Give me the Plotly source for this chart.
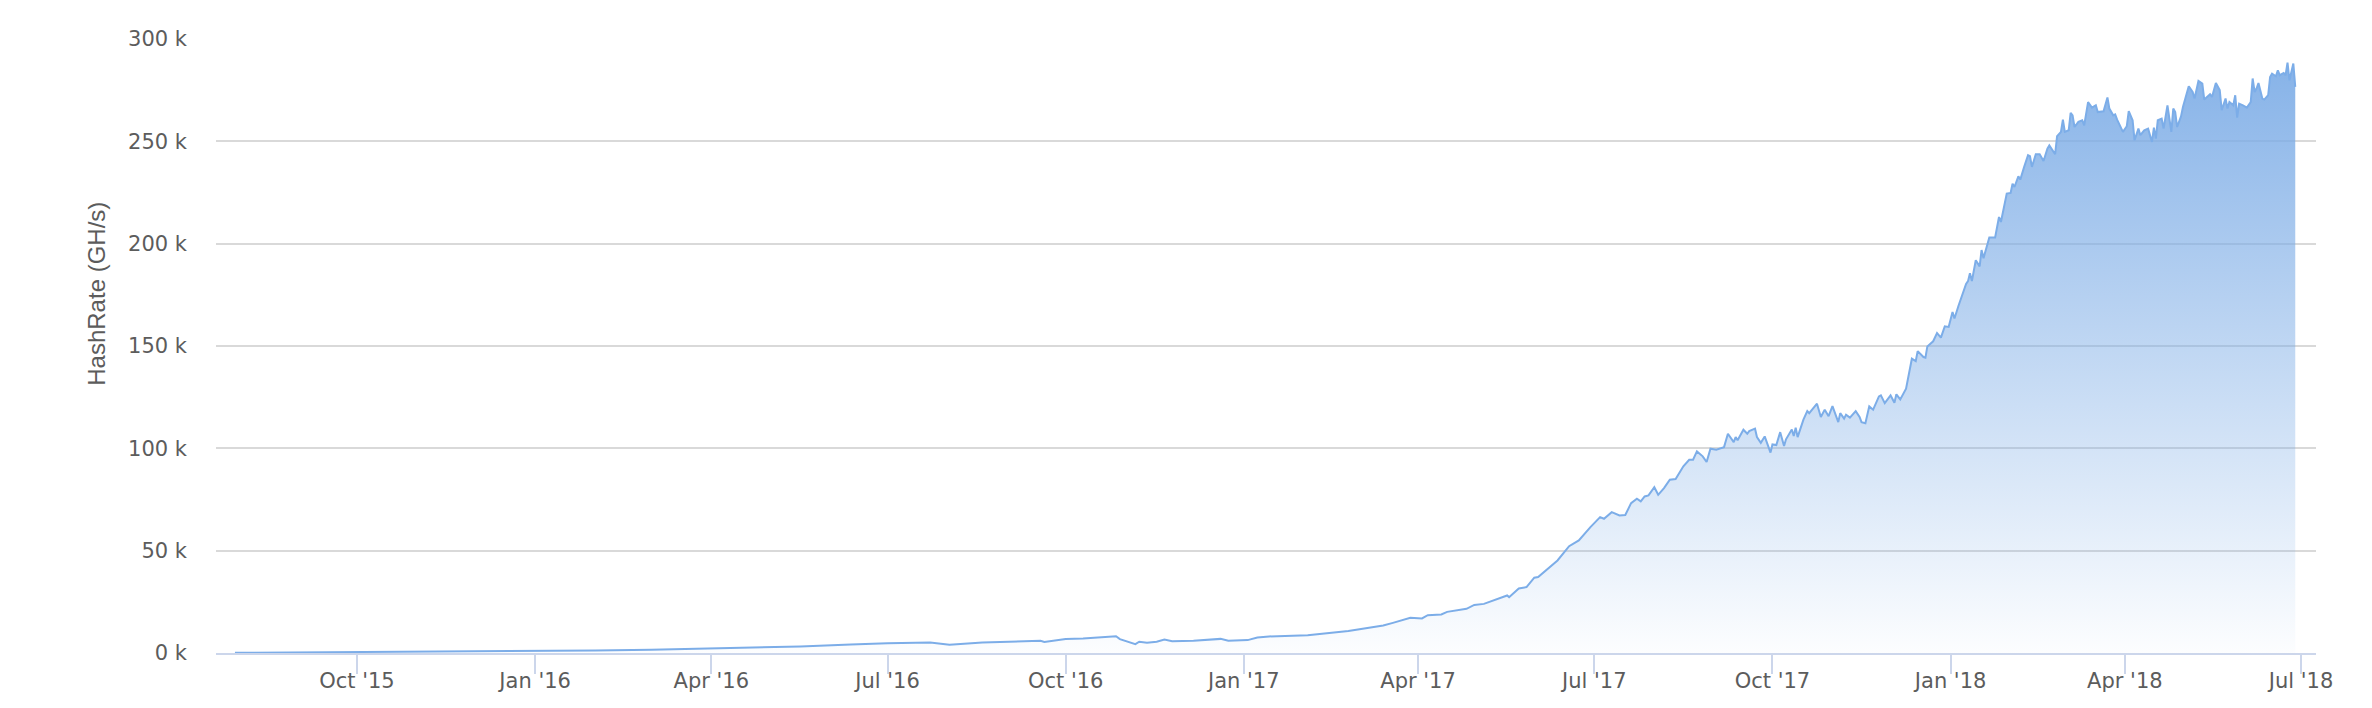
import pandas as pd
import plotly.graph_objects as go

day_offset = [
    -63, -45, -30, 0, 31, 61, 92, 123, 152, 183, 203, 229, 255, 274, 296, 306, 323, 341, 353, 355,
    366, 375, 384, 392, 394, 397, 402, 404, 408, 413, 417, 421, 432, 446, 450, 460, 465, 471, 491, 512,
    530, 535, 544, 550, 553, 560, 563, 573, 577, 582, 590, 594, 595, 600, 604, 608, 610, 616, 620, 626,
    631, 637, 642, 644, 648, 652, 655, 658, 661, 663, 665, 667, 670, 672, 675, 678, 681, 685, 688, 690,
    692, 695, 697, 699, 702, 706, 708, 711, 712, 713, 716, 718, 719, 722, 723, 725, 727, 730, 731, 733,
    735, 737, 738, 741, 742, 743, 744, 747, 749, 750, 752, 754, 756, 758, 760, 762, 765, 766, 768, 769,
    771, 774, 776, 777, 779, 781, 783, 786, 787, 789, 792, 794, 795, 797, 800, 803, 805, 806, 809, 810,
    811, 814, 816, 818, 820, 822, 824, 825, 827, 831, 832, 833, 834, 836, 838, 839, 840, 843, 846, 848,
    849, 852, 854, 855, 856, 858, 859, 860, 861, 863, 864, 865, 867, 869, 871, 873, 874, 877, 878, 880,
    881, 882, 884, 885, 886, 887, 889, 891, 892, 894, 896, 898, 899, 902, 904, 905, 907, 908, 909, 912,
    914, 915, 917, 918, 920, 921, 923, 925, 927, 928, 929, 930, 932, 933, 935, 937, 938, 939, 940, 942,
    943, 946, 948, 949, 951, 953, 954, 957, 958, 960, 962, 963, 965, 966, 967, 969, 970, 971, 972, 974,
    976, 978, 979, 980, 981, 982, 984, 985, 987, 988, 989, 991, 992, 993, 995, 996, 997, 998, 1000, 1001,
]

# HashRate in thousands of GH/s (k)
hashrate_k = [
    0.1, 0.2, 0.25, 0.4, 0.5, 0.7, 0.9, 1.2, 1.6, 2.1, 2.5, 3.2, 4.1, 4.8, 5.1, 4.0, 5.1, 5.6, 6.0, 5.4,
    6.8, 7.1, 7.7, 8.2, 6.8, 5.8, 4.3, 5.5, 5.0, 5.5, 6.6, 5.8, 6.0, 6.9, 6.0, 6.3, 7.6, 8.1, 8.7, 10.7,
    13.4, 14.7, 17.2, 16.9, 18.5, 18.8, 20.1, 21.6, 23.5, 24.0, 26.5, 28.1, 27.3, 31.5, 32.2, 36.8, 37.1, 41.9, 45.2, 52.2,
    55.0, 61.5, 66.4, 65.6, 68.8, 67.2, 67.4, 73.2, 75.4, 74.1, 76.5, 77.0, 81.0, 77.3, 80.6, 84.7, 85.0, 91.2, 94.4, 94.4,
    98.5, 96.1, 93.3, 99.8, 99.3, 100.6, 107.1, 103.0, 105.5, 103.9, 109.1, 107.1, 108.4, 109.6, 105.5, 102.7, 105.8, 97.9, 101.9, 101.6,
    107.9, 101.1, 104.4, 109.2, 106.0, 110.1, 105.5, 114.0, 118.2, 117.2, 119.4, 121.8, 115.3, 118.9, 115.7, 120.6, 112.8, 117.2, 114.5, 116.4,
    115.0, 118.2, 115.3, 112.8, 112.3, 120.5, 118.9, 125.4, 125.9, 122.1, 125.9, 122.3, 126.4, 123.9, 129.1, 143.8, 142.6, 147.5, 144.6, 144.3,
    149.8, 152.3, 156.3, 154.1, 159.6, 159.3, 166.6, 163.4, 169.4, 180.3, 181.7, 185.6, 181.7, 191.9, 188.9, 196.9, 192.9, 203.0, 203.0, 213.0,
    210.6, 224.5, 224.8, 229.3, 227.7, 232.9, 231.3, 235.0, 237.5, 243.2, 242.7, 237.5, 243.7, 243.7, 240.4, 246.4, 248.0, 243.7, 252.5, 254.6,
    260.6, 254.6, 255.4, 263.9, 262.7, 257.0, 259.5, 260.3, 257.8, 269.2, 266.5, 267.6, 264.3, 264.7, 271.4, 266.0, 262.7, 263.2, 260.6, 254.6,
    257.4, 264.7, 260.3, 250.5, 256.2, 253.0, 255.4, 256.2, 249.7, 256.7, 251.3, 260.3, 261.1, 256.2, 267.6, 254.6, 266.0, 264.3, 257.0, 262.2,
    266.8, 276.9, 274.1, 270.9, 279.5, 278.2, 270.4, 273.0, 271.7, 278.5, 275.0, 265.2, 270.9, 266.0, 269.2, 267.6, 272.5, 261.6, 268.4, 267.6,
    266.5, 269.2, 280.7, 274.1, 275.8, 278.5, 270.9, 270.4, 272.5, 281.4, 283.1, 281.8, 284.7, 282.3, 283.4, 282.3, 288.5, 279.8, 288.0, 276.6,
]

tick_dates = ["2015-10-01", "2016-01-01", "2016-04-01", "2016-07-01", "2016-10-01", "2017-01-01",
              "2017-04-01", "2017-07-01", "2017-10-01", "2018-01-01", "2018-04-01", "2018-07-01"]
tick_labels = ["Oct '15", "Jan '16", "Apr '16", "Jul '16", "Oct '16", "Jan '17",
               "Apr '17", "Jul '17", "Oct '17", "Jan '18", "Apr '18", "Jul '18"]
y_ticks = [0, 50, 100, 150, 200, 250, 300]
y_tick_labels = ["0 k", "50 k", "100 k", "150 k", "200 k", "250 k", "300 k"]
y_title = "HashRate (GH/s)"

dates = pd.Timestamp("2015-10-01") + pd.to_timedelta(day_offset, unit="D")

TEXT = "#5c5c5c"
FONT = "DejaVu Sans"

fig = go.Figure()
fig.add_trace(go.Scatter(
    x=dates, y=hashrate_k, mode="lines",
    line=dict(color="#7cade8", width=2),
    fill="tozeroy",
    fillgradient=dict(type="vertical",
                      colorscale=[[0, "rgba(124,172,230,0.02)"], [1, "rgba(124,172,230,0.92)"]]),
    hoverinfo="x+y", showlegend=False,
))

# The page body has an 8px default margin, so the figure is 8px smaller than the window.
fig.update_layout(
    width=2364, height=700,
    margin=dict(l=208, r=56, t=31, b=55, pad=0),
    paper_bgcolor="white", plot_bgcolor="white",
    font=dict(family=FONT, size=21, color=TEXT),
    xaxis=dict(
        type="date", automargin=False,
        range=["2015-07-20 05:00", "2018-07-08 17:00"],
        tickmode="array", tickvals=tick_dates, ticktext=tick_labels,
        ticks="outside", ticklen=19, tickwidth=2, tickcolor="#ccd6eb",
        showline=True, linecolor="#ccd6eb", linewidth=2,
        showgrid=False, zeroline=False,
        ticklabelstandoff=-11,
        tickfont=dict(family=FONT, size=21, color=TEXT),
    ),
    yaxis=dict(
        range=[0, 300], automargin=False,
        tickmode="array", tickvals=y_ticks, ticktext=y_tick_labels,
        showgrid=True, gridcolor="#d9d9d9", gridwidth=2,
        zeroline=False, showline=False, ticks="",
        ticklabelstandoff=28,
        tickfont=dict(family=FONT, size=21, color=TEXT),
    ),
    annotations=[dict(
        text=y_title, textangle=-90, xref="paper", yref="paper",
        x=-0.0567, y=0.585, xanchor="center", yanchor="middle", showarrow=False,
        font=dict(family="Liberation Sans", size=24, color=TEXT),
    )],
)

fig.write_html("out.html")
